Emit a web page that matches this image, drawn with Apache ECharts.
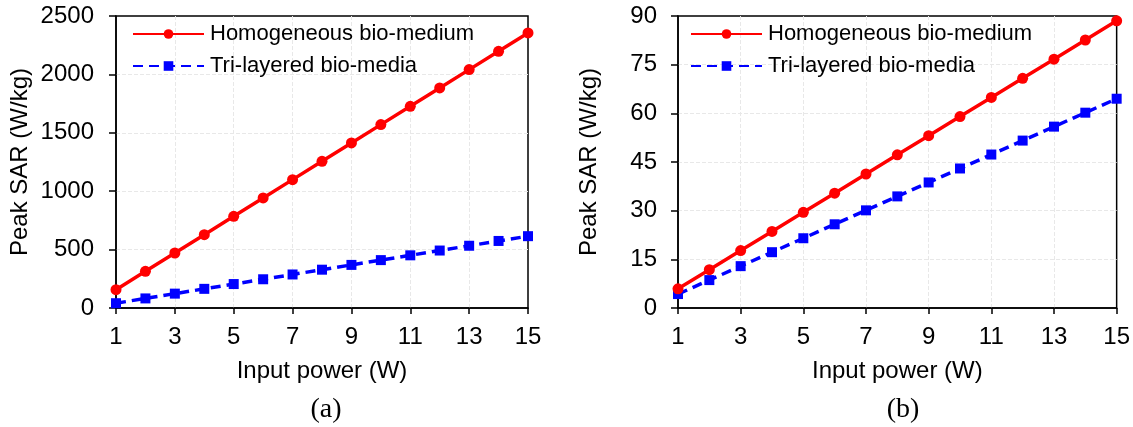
<!DOCTYPE html>
<html>
<head>
<meta charset="utf-8">
<script src="https://cdn.jsdelivr.net/npm/echarts@6/dist/echarts.min.js"></script>
<style>
  html, body { margin: 0; padding: 0; background: #fff; }
  #main { width: 1133px; height: 427px; }
</style>
</head>
<body>
<div id="main"></div>
<script>
// 数据
var powers = ['1', '2', '3', '4', '5', '6', '7', '8', '9', '10', '11', '12', '13', '14', '15'];
var homoA = [157, 314, 471, 628, 785, 942, 1099, 1256, 1413, 1570, 1727, 1884, 2041, 2198, 2355];
var triA = [41, 82, 123, 164, 205, 246, 287, 328, 369, 410, 451, 492, 533, 574, 615];
var homoB = [5.9, 11.8, 17.7, 23.6, 29.5, 35.4, 41.3, 47.2, 53.1, 59.0, 64.9, 70.8, 76.7, 82.6, 88.5];
var triB = [4.3, 8.6, 12.9, 17.2, 21.5, 25.8, 30.1, 34.4, 38.7, 43.0, 47.3, 51.6, 55.9, 60.2, 64.5];
var nameHomo = 'Homogeneous bio-medium';
var nameTri = 'Tri-layered bio-media';

var chart = echarts.init(document.getElementById('main'));

var font = 'Liberation Sans, Arial, sans-serif';

function xAxis(idx) {
    return {
        type: 'category',
        gridIndex: idx,
        data: powers,
        boundaryGap: false,
        name: 'Input power (W)',
        nameLocation: 'middle',
        nameGap: 51,
        nameTextStyle: { fontFamily: font, fontSize: 24, color: '#000' },
        axisLine: { lineStyle: { color: '#000', width: 1.5 } },
        axisTick: { interval: 1, length: 6, lineStyle: { color: '#000', width: 1.5 } },
        axisLabel: { interval: 1, margin: 17, fontFamily: font, fontSize: 24, color: '#000' },
        splitLine: { show: true, interval: 1, showMinLine: false, showMaxLine: false,
                     lineStyle: { color: '#e8e8e8', type: 'dashed' } }
    };
}

function yAxis(idx, max, step, gap, margin) {
    return {
        type: 'value',
        gridIndex: idx,
        min: 0,
        max: max,
        interval: step,
        name: 'Peak SAR (W/kg)',
        nameLocation: 'middle',
        nameGap: gap,
        nameTextStyle: { fontFamily: font, fontSize: 24, color: '#000' },
        axisLine: { show: true, lineStyle: { color: '#000', width: 1.5 } },
        axisTick: { show: true, length: 7, lineStyle: { color: '#000', width: 1.5 } },
        axisLabel: { margin: margin, fontFamily: font, fontSize: 24, color: '#000',
                     formatter: function (v) { return String(v); } },
        splitLine: { show: true, showMinLine: false, showMaxLine: false,
                     lineStyle: { color: '#e8e8e8', type: 'dashed' } }
    };
}

function homoSeries(idx, data) {
    return {
        name: nameHomo,
        type: 'line',
        xAxisIndex: idx,
        yAxisIndex: idx,
        data: data,
        symbol: 'circle',
        symbolSize: 11,
        color: '#ff0000',
        lineStyle: { color: '#ff0000', width: 3.5 },
        itemStyle: { color: '#ff0000' },
        z: 3
    };
}

function triSeries(idx, data) {
    return {
        name: nameTri,
        type: 'line',
        xAxisIndex: idx,
        yAxisIndex: idx,
        data: data,
        symbol: 'rect',
        symbolSize: 10,
        color: '#0000ff',
        lineStyle: { color: '#0000ff', width: 3.5, type: [10, 6] },
        itemStyle: { color: '#0000ff' },
        z: 2
    };
}

function legend(left) {
    return {
        orient: 'vertical',
        left: left,
        top: 23,
        padding: 0,
        itemWidth: 71,
        itemHeight: 12,
        itemGap: 10,
        data: [nameHomo, nameTri],
        textStyle: { fontFamily: font, fontSize: 22, color: '#000', lineHeight: 22, padding: [0, 0, 0, 1] }
    };
}

var option = {
    backgroundColor: '#fff',
    animation: false,
    title: [
        { text: '(a)', left: 321, top: 391, textAlign: 'center',
          textStyle: { fontFamily: 'Liberation Serif, Times New Roman, serif', fontSize: 28, fontWeight: 'normal', color: '#000' } },
        { text: '(b)', left: 898, top: 391, textAlign: 'center',
          textStyle: { fontFamily: 'Liberation Serif, Times New Roman, serif', fontSize: 28, fontWeight: 'normal', color: '#000' } }
    ],
    legend: [legend(132), legend(690)],
    grid: [
        { left: 116, top: 16, width: 412, height: 292, show: true, borderColor: '#000', borderWidth: 1.5 },
        { left: 678, top: 16, width: 441, height: 292, show: true, borderColor: '#000', borderWidth: 1.5 }
    ],
    xAxis: [xAxis(0), xAxis(1)],
    yAxis: [yAxis(0, 2500, 500, 84, 22), yAxis(1, 90, 15, 77, 21)],
    series: [
        homoSeries(0, homoA),
        triSeries(0, triA),
        homoSeries(1, homoB),
        triSeries(1, triB)
    ]
};

chart.setOption(option);
</script>
</body>
</html>
